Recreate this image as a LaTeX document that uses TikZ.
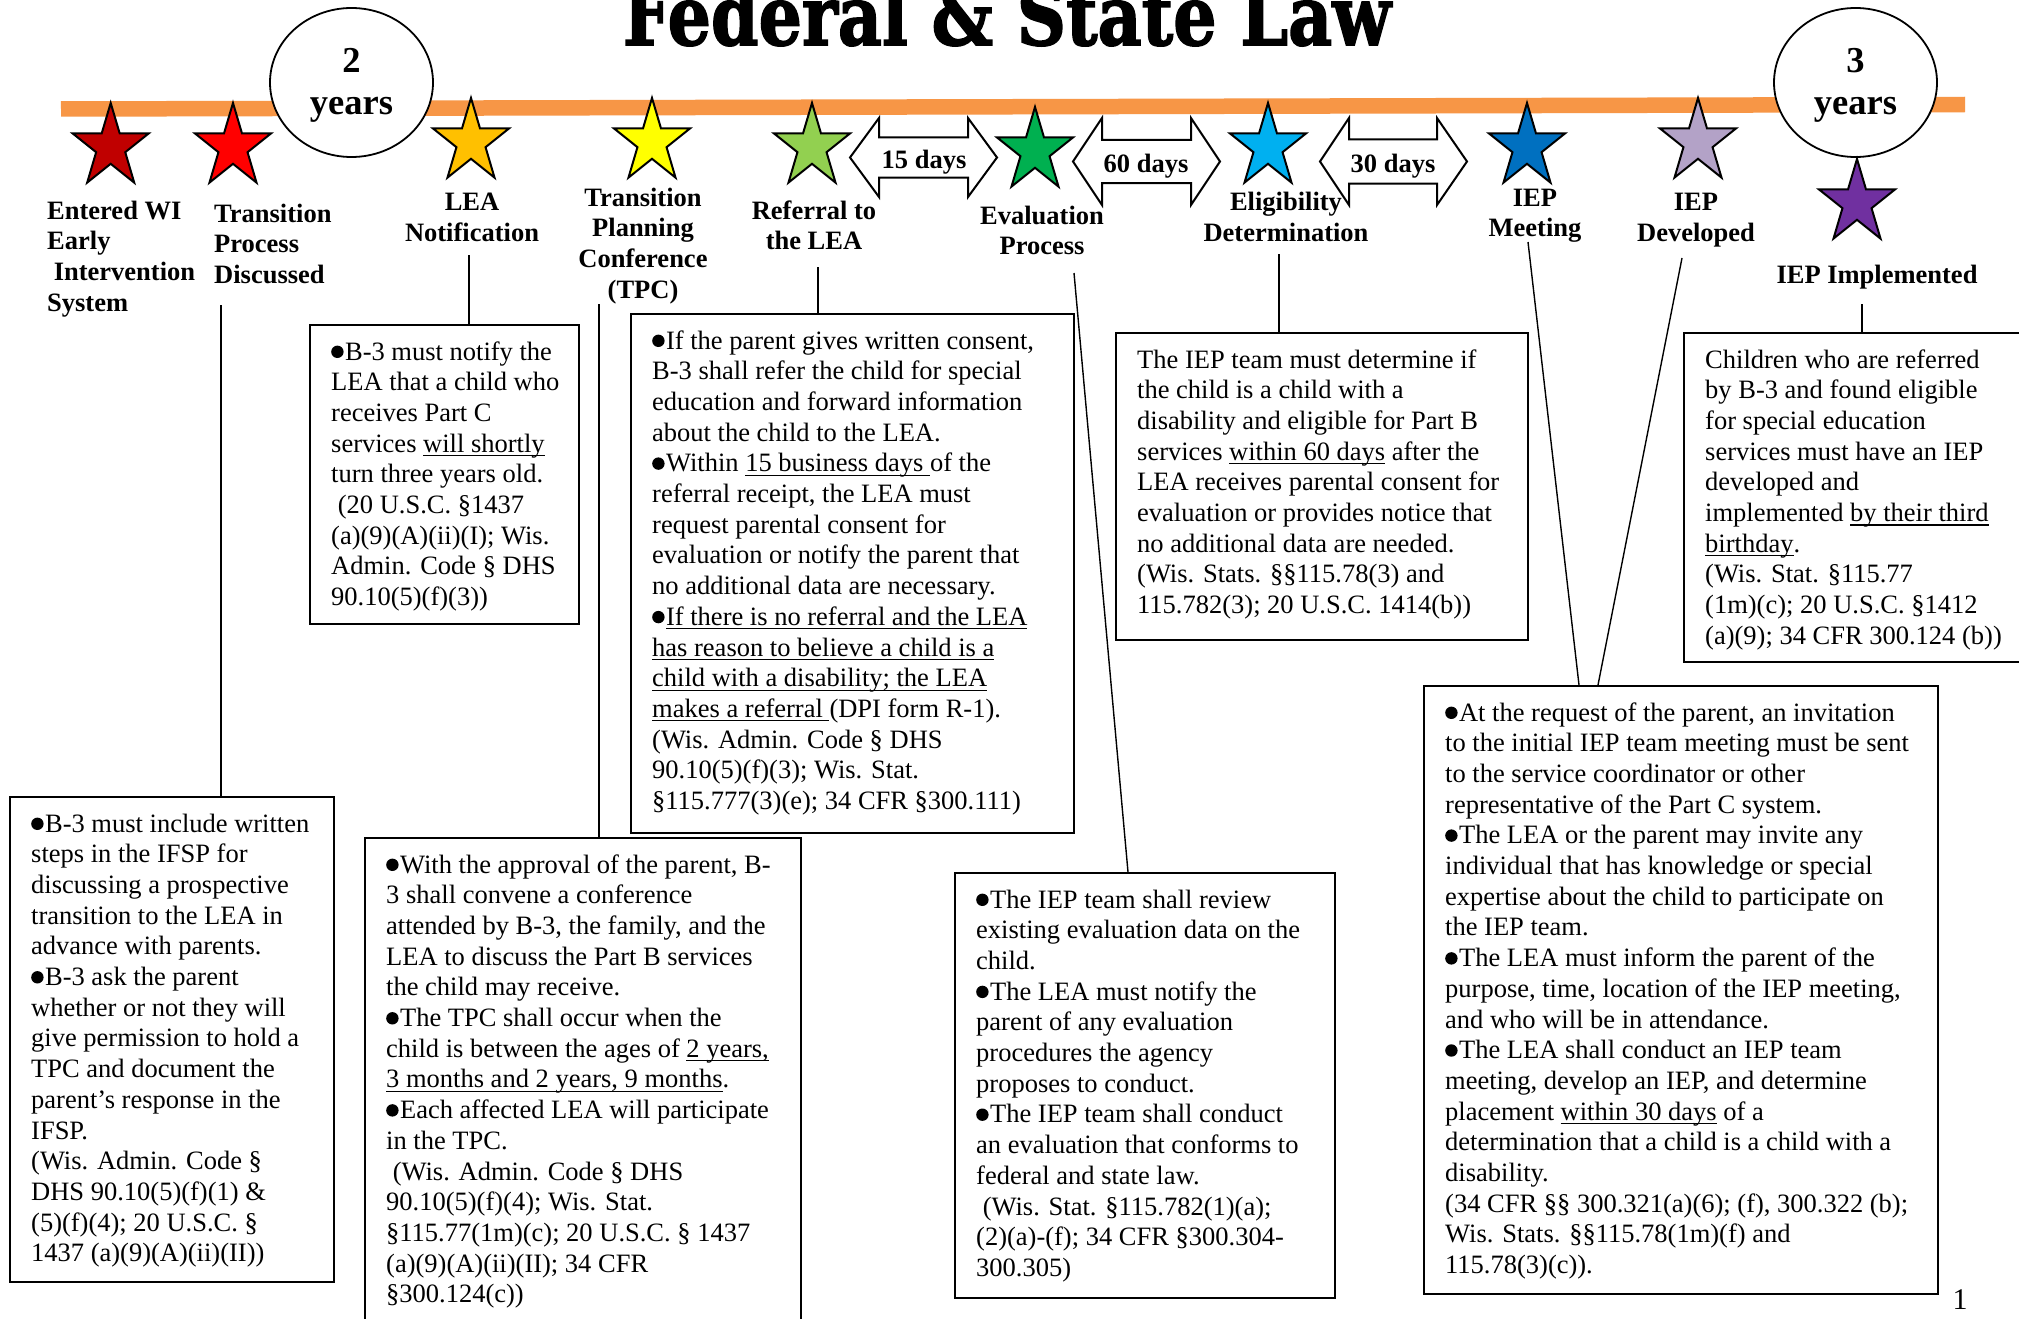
\documentclass[tikz,border=0pt]{standalone}
\usepackage{fontspec}
\setmainfont{Liberation Serif}
\newfontfamily\titlefont{DejaVu Serif}[BoldFeatures={FakeBold=2}]
\usepackage{graphicx}
\usetikzlibrary{calc,shapes.geometric}

\newcommand\blt{\raisebox{2pt}{\tikz\fill[black] (0,0) circle (6.2pt);}\hspace{1.5pt}}
\newcommand\myul[1]{\setbox0=\hbox{#1}\rlap{\rule[-4pt]{\wd0}{1.2pt}}\box0\relax}
\newcommand\starat[3]{%
  \draw[starline, fill=#3, shift={(#1,#2+44)}]
    (270:40 and 44) -- (306:15.3 and 16.8) -- (342:40 and 44) -- (18:15.3 and 16.8) --
    (54:40 and 44) -- (90:15.3 and 16.8) -- (126:40 and 44) -- (162:15.3 and 16.8) --
    (198:40 and 44) -- (234:15.3 and 16.8) -- cycle;}
\newcommand\dblarrow[7]{%
  \draw[arrowshape] (#1,#5) -- (#2,#5-#6) -- (#2,#5-#7) -- (#3,#5-#7) -- (#3,#5-#6) --
    (#4,#5) -- (#3,#5+#6) -- (#3,#5+#7) -- (#2,#5+#7) -- (#2,#5+#6) -- cycle;}

\definecolor{barorange}{HTML}{F79646}
\definecolor{sA}{HTML}{C00000}
\definecolor{sB}{HTML}{FF0000}
\definecolor{sC}{HTML}{FFC000}
\definecolor{sD}{HTML}{FFFF00}
\definecolor{sE}{HTML}{92D050}
\definecolor{sF}{HTML}{00B050}
\definecolor{sG}{HTML}{00B0F0}
\definecolor{sH}{HTML}{0070C0}
\definecolor{sI}{HTML}{B3A2C7}
\definecolor{sJ}{HTML}{7030A0}

\begin{document}
\begin{tikzpicture}[x=1pt,y=-1pt,
  starline/.style={draw=black, line width=2pt, line join=miter},
  arrowshape/.style={draw=black, fill=white, line width=2pt, line join=miter},
  lab/.style={inner sep=0, font=\bfseries\fontsize{26.5pt}{30.7pt}\selectfont},
  txt/.style={inner sep=0, anchor=base west, font=\fontsize{26.5pt}{30.7pt}\selectfont},
  boxstyle/.style={draw=black, line width=1.8pt, anchor=north west, inner sep=0},
  conn/.style={draw=black, line width=1.4pt},
  yrs/.style={draw=black, fill=white, ellipse, line width=1.8pt, inner sep=0,
              minimum width=163pt, minimum height=149pt},
  yrtxt/.style={inner sep=0, anchor=base, font=\bfseries\fontsize{36.5pt}{42pt}\selectfont}]

\useasboundingbox (0,0) rectangle (2019,1319);
\fill[white] (0,0) rectangle (2019,1319);

% title
\node[anchor=base, inner sep=0] (title) at (1007,45)
  {\resizebox{768pt}{63pt}{\titlefont\bfseries Federal \& State Law}};

% timeline bar
\draw[barorange, line width=15.5pt] (61,109) -- (1965,104.5);

% year circles
\node[yrs] (yr2) at (351.5,82.5) {};
\node[yrtxt] (yr2t) at (351.5,73) {\begin{tabular}[t]{@{}c@{}}2\\years\end{tabular}};
\node[yrs] (yr3) at (1855.5,82.5) {};
\node[yrtxt] (yr3t) at (1855.5,73) {\begin{tabular}[t]{@{}c@{}}3\\years\end{tabular}};

% stars
\starat{110.7}{103}{sA}
\starat{233}{103}{sB}
\starat{471}{98}{sC}
\starat{652}{98}{sD}
\starat{812}{103}{sE}
\starat{1035}{107}{sF}
\starat{1268}{103}{sG}
\starat{1527}{103}{sH}
\starat{1698}{98}{sI}
\starat{1857}{159}{sJ}

% day arrows
\dblarrow{850}{879}{968}{997}{157.5}{39.5}{20}
\node[lab, anchor=base] (d15) at (924,168) {15 days};
\dblarrow{1073}{1102}{1191}{1220}{161.5}{43.5}{21.5}
\node[lab, anchor=base] (d60) at (1146,172) {60 days};
\dblarrow{1320}{1349}{1437}{1467}{161.5}{43.5}{22}
\node[lab, anchor=base] (d30) at (1393,172) {30 days};

% labels
\node[lab, anchor=base west] (l1) at (47,219)
  {\begin{tabular}[t]{@{}l@{}}Entered WI\\Early\\\ Intervention\\System\end{tabular}};
\node[lab, anchor=base west] (l2) at (214,222)
  {\begin{tabular}[t]{@{}l@{}}Transition\\Process\\Discussed\end{tabular}};
\node[lab, anchor=base] (l3) at (472,211)
  {\begin{tabular}[t]{@{}c@{}}LEA\\Notification\end{tabular}};
\node[lab, anchor=base] (l4) at (643,206)
  {\begin{tabular}[t]{@{}c@{}}Transition\\Planning\\Conference\\(TPC)\end{tabular}};
\node[lab, anchor=base] (l5) at (814,219)
  {\begin{tabular}[t]{@{}c@{}}Referral to\\the LEA\end{tabular}};
\node[lab, anchor=base] (l6) at (1042,224)
  {\begin{tabular}[t]{@{}c@{}}Evaluation\\Process\end{tabular}};
\node[lab, anchor=base] (l7) at (1286,211)
  {\begin{tabular}[t]{@{}c@{}}Eligibility\\Determination\end{tabular}};
\node[lab, anchor=base] (l8) at (1535,206)
  {\begin{tabular}[t]{@{}c@{}}IEP\\Meeting\end{tabular}};
\node[lab, anchor=base] (l9) at (1696,211)
  {\begin{tabular}[t]{@{}c@{}}IEP\\Developed\end{tabular}};
\node[lab, anchor=base] (l10) at (1877,283) {IEP Implemented};

% boxes
\node[boxstyle, minimum width=324pt, minimum height=485pt] (b1) at (9,796) {};
\node[boxstyle, minimum width=269pt, minimum height=299pt] (b2) at (309,324) {};
\node[boxstyle, minimum width=443pt, minimum height=519pt] (b3) at (630,313) {};
\node[boxstyle, minimum width=436pt, minimum height=500pt] (b4) at (364,837) {};
\node[boxstyle, minimum width=380pt, minimum height=425pt] (b5) at (954,872) {};
\node[boxstyle, minimum width=412pt, minimum height=307pt] (b6) at (1115,332) {};
\node[boxstyle, minimum width=514pt, minimum height=608pt] (b7) at (1423,685) {};
\node[boxstyle, minimum width=360pt, minimum height=329pt] (b8) at (1683,332) {};

% box texts
\node[txt] (t1) at ($(b1.north west)+(22,36)$) {\begin{tabular}[t]{@{}l@{}}
\blt B-3 must include written\\
steps in the IFSP for\\
discussing a prospective\\
transition to the LEA in\\
advance with parents.\\
\blt B-3 ask the parent\\
whether or not they will\\
give permission to hold a\\
TPC and document the\\
parent’s response in the\\
IFSP.\\
(Wis. Admin. Code §\\
DHS 90.10(5)(f)(1) \&\\
(5)(f)(4); 20 U.S.C. §\\
1437 (a)(9)(A)(ii)(II))\end{tabular}};

\node[txt] (t2) at ($(b2.north west)+(22,36)$) {\begin{tabular}[t]{@{}l@{}}
\blt B-3 must notify the\\
LEA that a child who\\
receives Part C\\
services \myul{will shortly}\\
turn three years old.\\
\ (20 U.S.C. §1437\\
(a)(9)(A)(ii)(I); Wis.\\
Admin. Code § DHS\\
90.10(5)(f)(3))\end{tabular}};

\node[txt] (t3) at ($(b3.north west)+(22,36)$) {\begin{tabular}[t]{@{}l@{}}
\blt If the parent gives written consent,\\
B-3 shall refer the child for special\\
education and forward information\\
about the child to the LEA.\\
\blt Within \myul{15 business days\ }of the\\
referral receipt, the LEA must\\
request parental consent for\\
evaluation or notify the parent that\\
no additional data are necessary.\\
\blt\myul{If there is no referral and the LEA}\\
\myul{has reason to believe a child is a}\\
\myul{child with a disability; the LEA}\\
\myul{makes a referral\ }(DPI form R-1).\\
(Wis. Admin. Code § DHS\\
90.10(5)(f)(3); Wis. Stat.\\
§115.777(3)(e); 34 CFR §300.111)\end{tabular}};

\node[txt] (t4) at ($(b4.north west)+(22,36)$) {\begin{tabular}[t]{@{}l@{}}
\blt With the approval of the parent, B-\\
3 shall convene a conference\\
attended by B-3, the family, and the\\
LEA to discuss the Part B services\\
the child may receive.\\
\blt The TPC shall occur when the\\
child is between the ages of \myul{2 years,}\\
\myul{3 months and 2 years, 9 months}.\\
\blt Each affected LEA will participate\\
in the TPC.\\
\ (Wis. Admin. Code § DHS\\
90.10(5)(f)(4); Wis. Stat.\\
§115.77(1m)(c); 20 U.S.C. § 1437\\
(a)(9)(A)(ii)(II); 34 CFR\\
§300.124(c))\end{tabular}};

\node[txt] (t5) at ($(b5.north west)+(22,36)$) {\begin{tabular}[t]{@{}l@{}}
\blt The IEP team shall review\\
existing evaluation data on the\\
child.\\
\blt The LEA must notify the\\
parent of any evaluation\\
procedures the agency\\
proposes to conduct.\\
\blt The IEP team shall conduct\\
an evaluation that conforms to\\
federal and state law.\\
\ (Wis. Stat. §115.782(1)(a);\\
(2)(a)-(f); 34 CFR §300.304-\\
300.305)\end{tabular}};

\node[txt] (t6) at ($(b6.north west)+(22,36)$) {\begin{tabular}[t]{@{}l@{}}
The IEP team must determine if\\
the child is a child with a\\
disability and eligible for Part B\\
services \myul{within 60 days} after the\\
LEA receives parental consent for\\
evaluation or provides notice that\\
no additional data are needed.\\
(Wis. Stats. §§115.78(3) and\\
115.782(3); 20 U.S.C. 1414(b))\end{tabular}};

\node[txt] (t7) at ($(b7.north west)+(22,36)$) {\begin{tabular}[t]{@{}l@{}}
\blt At the request of the parent, an invitation\\
to the initial IEP team meeting must be sent\\
to the service coordinator or other\\
representative of the Part C system.\\
\blt The LEA or the parent may invite any\\
individual that has knowledge or special\\
expertise about the child to participate on\\
the IEP team.\\
\blt The LEA must inform the parent of the\\
purpose, time, location of the IEP meeting,\\
and who will be in attendance.\\
\blt The LEA shall conduct an IEP team\\
meeting, develop an IEP, and determine\\
placement \myul{within 30 days} of a\\
determination that a child is a child with a\\
disability.\\
(34 CFR §§ 300.321(a)(6); (f), 300.322 (b);\\
Wis. Stats. §§115.78(1m)(f) and\\
115.78(3)(c)).\end{tabular}};

\node[txt] (t8) at ($(b8.north west)+(22,36)$) {\begin{tabular}[t]{@{}l@{}}
Children who are referred\\
by B-3 and found eligible\\
for special education\\
services must have an IEP\\
developed and\\
implemented \myul{by their third}\\
\myul{birthday}.\\
(Wis. Stat. §115.77\\
(1m)(c); 20 U.S.C. §1412\\
(a)(9); 34 CFR 300.124 (b))\end{tabular}};

% connectors
\coordinate (c1) at (221,305);
\draw[conn] (c1) -- (c1 |- b1.north);
\coordinate (c2) at (469,255);
\draw[conn] (c2) -- (c2 |- b2.north);
\coordinate (c3) at (599,304);
\draw[conn] (c3) -- (c3 |- b4.north);
\coordinate (c4) at (818,267);
\draw[conn] (c4) -- (c4 |- b3.north);
\coordinate (c5) at (1074,273);
\draw[conn] (c5) -- ($(b5.north west)+(174,0)$);
\coordinate (c6) at (1279,254);
\draw[conn] (c6) -- (c6 |- b6.north);
\coordinate (c7) at (1528,242);
\draw[conn] (c7) -- ($(b7.north west)+(156,0)$);
\coordinate (c8) at (1682,258);
\draw[conn] (c8) -- ($(b7.north west)+(175,0)$);
\coordinate (c9) at (1862,304);
\draw[conn] (c9) -- (c9 |- b8.north);

% page number
\node[inner sep=0, anchor=base, font=\fontsize{30pt}{30pt}\selectfont] (pg) at (1960,1309) {1};
\end{tikzpicture}
\end{document}
